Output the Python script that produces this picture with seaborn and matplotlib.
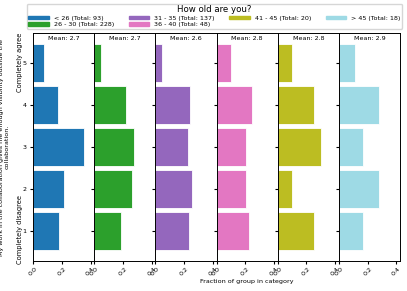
import matplotlib
matplotlib.use("Agg")
import matplotlib.pyplot as plt
import matplotlib.patches as mpatches
import pandas as pd
import seaborn as sns

# answers 1..5 per age group (counts)
levels = [1, 2, 3, 4, 5]
groups = ["< 26", "26 - 30", "31 - 35", "36 - 40", "41 - 45", "> 45"]
totals = [93, 228, 137, 48, 20, 18]
counts_lt26 = [17, 20, 33, 16, 7]
counts_26_30 = [43, 60, 63, 51, 11]
counts_31_35 = [32, 35, 31, 33, 6]
counts_36_40 = [11, 10, 10, 12, 5]
counts_41_45 = [5, 2, 6, 5, 2]
counts_gt45 = [3, 5, 3, 5, 2]
mean_labels = ["2.7", "2.7", "2.6", "2.8", "2.8", "2.9"]
colors = ["#1f77b4", "#2ca02c", "#9467bd", "#e377c2", "#bcbd22", "#9edae5"]

all_counts = [counts_lt26, counts_26_30, counts_31_35, counts_36_40, counts_41_45, counts_gt45]

fig, axs = plt.subplots(nrows=1, ncols=len(groups), figsize=(4.07, 2.91), dpi=100, sharey=True)
fig.subplots_adjust(left=33 / 407, right=400 / 407, top=1 - 33 / 291, bottom=1 - 261 / 291, wspace=0)

for i, (grp, tot, cnt) in enumerate(zip(groups, totals, all_counts)):
    ax = axs[i]
    df = pd.DataFrame({"level": levels, "frac": [c / tot for c in cnt]})
    sns.barplot(data=df, x="frac", y="level", orient="h", native_scale=True,
                color=colors[i], saturation=1, width=0.9, edgecolor="white",
                linewidth=0.6, ax=ax)
    ax.set_xlim(0, 0.425)
    ax.set_ylim(0.3, 5.7)
    ax.set_xticks([0.0, 0.2, 0.4])
    ax.set_xticklabels(["0.0", "0.2", "0.4"], rotation=45, fontsize=4.6)
    ax.set_yticks(levels)
    ax.tick_params(axis="y", labelsize=4.6, length=2.5, pad=2)
    ax.tick_params(axis="x", length=2.5, pad=1)
    ax.set_xlabel("")
    ax.set_ylabel("")
    for s in ax.spines.values():
        s.set_linewidth(0.7)
    ax.text(0.5, 0.985, f"Mean: {mean_labels[i]}", transform=ax.transAxes,
            ha="center", va="top", fontsize=4.6)

ax0 = axs[0]
ax0.set_yticklabels([str(l) for l in levels])
ax0.text(-0.21, 1.05, "Completely disagree", transform=ax0.get_yaxis_transform(),
         rotation=90, ha="center", va="center", fontsize=4.8)
ax0.text(-0.21, 5, "Completely agree", transform=ax0.get_yaxis_transform(),
         rotation=90, ha="center", va="center", fontsize=4.8)
ax0.set_ylabel("My work in the collaboration gives me enough visibility outside the\ncollaboration.",
               fontsize=4.6, linespacing=1.1)
ax0.yaxis.set_label_coords(-0.39, 0.5)
axs[len(groups) // 2].set_xlabel("Fraction of group in category", fontsize=4.6, labelpad=2)

handles = [mpatches.Patch(color=c) for c in colors]
labels = [f"{g} (Total: {t})" for g, t in zip(groups, totals)]
fig.legend(handles, labels, loc="upper left", ncol=4, mode="expand",
           bbox_to_anchor=(26 / 407, 1 - 3 / 291, 377 / 407, 0),
           title="How old are you?", fontsize=4.6, title_fontsize=6.2,
           handlelength=3.2, handleheight=0.5, borderpad=0.25, labelspacing=0.2,
           handletextpad=0.8, borderaxespad=0.1)

plt.savefig("out.png", dpi=100)
